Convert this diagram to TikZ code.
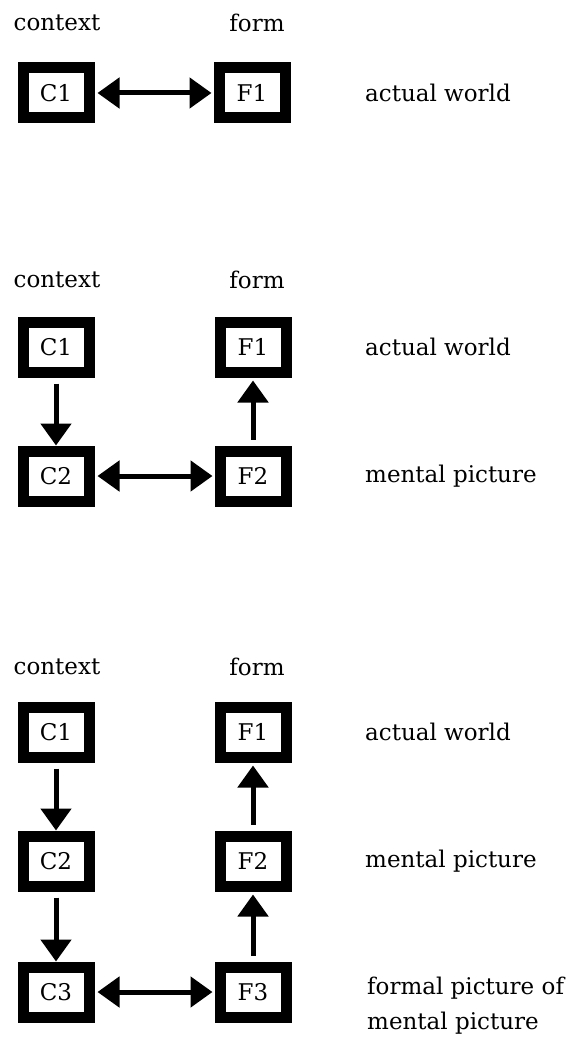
\documentclass[tikz,border=0pt]{standalone}
\usepackage{fontspec}
\setmainfont{DejaVu Serif}
\usetikzlibrary{arrows.meta}

\begin{document}
\begin{tikzpicture}[x = 1pt, y = -1pt,
                        box/.style = {rectangle, draw, line width = 11pt, minimum width = 66pt,
                                      minimum height = 50pt, inner sep = 0pt, font = \fontsize{23}{27}\selectfont},
                        label/.style = {font = \fontsize{23}{27}\selectfont, inner sep = 0pt},
                        side/.style = {label, anchor = west},
                        link/.style = {line width = 5pt, -{Triangle[length = 22pt, width = 30pt]}},
                        both/.style = {line width = 5pt, {Triangle[length = 22pt, width = 30pt]}-{Triangle[length = 22pt, width = 30pt]}}]
      \useasboundingbox (0, 0) rectangle (576, 1040);

      % one
      \node [label] (h1) at (57, 23){context};
      \node [label] (g1) at (257, 23){form};
      \node [box] (a1) at (56, 93){C1};
      \node [box] (b1) at (252, 93){F1};
      \node [side] (s1) at (365, 93){actual world};

      \draw [both, shorten < = 3pt, shorten > = 2pt] (a1) -- (b1);

      % two
      \node [label] (h2) at (57, 280){context};
      \node [label] (g2) at (257, 280){form};
      \node [box] (a2) at (56, 347){C1};
      \node [box] (b2) at (253, 347){F1};
      \node [box] (a3) at (56, 476){C2};
      \node [box] (b3) at (253, 476){F2};
      \node [side] (s2) at (365, 347){actual world};
      \node [side] (s3) at (365, 476){mental picture};

      \draw [link, shorten < = 6pt] (a2) -- (a3);
      \draw [link, shorten < = 6pt, shorten > = 3pt] (b3) -- (b2);
      \draw [both, shorten < = 3pt, shorten > = 2pt] (a3) -- (b3);

      % three
      \node [label] (h3) at (57, 667){context};
      \node [label] (g3) at (257, 667){form};
      \node [box] (a4) at (56, 732){C1};
      \node [box] (b4) at (253, 732){F1};
      \node [box] (a5) at (56, 861){C2};
      \node [box] (b5) at (253, 861){F2};
      \node [box] (a6) at (56, 992){C3};
      \node [box] (b6) at (253, 992){F3};
      \node [side] (s4) at (365, 732){actual world};
      \node [side] (s5) at (365, 861){mental picture};
      \node [side] (s6) at (367, 988){formal picture of};
      \node [side] (s7) at (367, 1023){mental picture};

      \draw [link, shorten < = 6pt] (a4) -- (a5);
      \draw [link, shorten < = 6pt] (a5) -- (a6);
      \draw [link, shorten < = 6pt, shorten > = 3pt] (b5) -- (b4);
      \draw [link, shorten < = 6pt, shorten > = 3pt] (b6) -- (b5);
      \draw [both, shorten < = 3pt, shorten > = 2pt] (a6) -- (b6);

      \end{tikzpicture}
\end{document}
